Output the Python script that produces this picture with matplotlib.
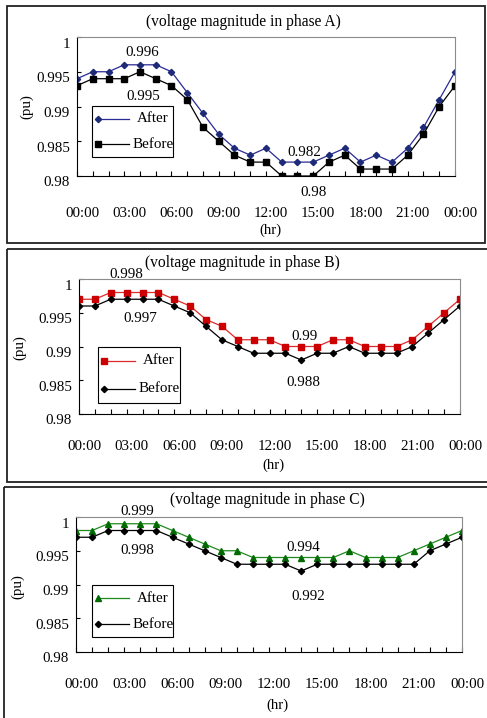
import matplotlib
matplotlib.use("Agg")
import matplotlib.pyplot as plt
from matplotlib.patches import Rectangle
from matplotlib.lines import Line2D
from matplotlib.transforms import ScaledTranslation

plt.rcParams["font.family"] = ["Liberation Serif", "DejaVu Serif"]
plt.rcParams["font.size"] = 10.8

# hourly voltage magnitude (pu), 00:00 .. 24:00
hour_labels = ["00:00", "03:00", "06:00", "09:00", "12:00", "15:00", "18:00", "21:00", "00:00"]
y_ticks = [0.98, 0.985, 0.99, 0.995, 1.0]

a_after = [0.994, 0.995, 0.995, 0.996, 0.996, 0.996, 0.995, 0.992, 0.989, 0.986, 0.984, 0.983, 0.984,
           0.982, 0.982, 0.982, 0.983, 0.984, 0.982, 0.983, 0.982, 0.984, 0.987, 0.991, 0.995]
a_before = [0.993, 0.994, 0.994, 0.994, 0.995, 0.994, 0.993, 0.991, 0.987, 0.985, 0.983, 0.982, 0.982,
            0.980, 0.980, 0.980, 0.982, 0.983, 0.981, 0.981, 0.981, 0.983, 0.986, 0.990, 0.993]
b_after = [0.997, 0.997, 0.998, 0.998, 0.998, 0.998, 0.997, 0.996, 0.994, 0.993, 0.991, 0.991, 0.991,
           0.990, 0.990, 0.990, 0.991, 0.991, 0.990, 0.990, 0.990, 0.991, 0.993, 0.995, 0.997]
b_before = [0.996, 0.996, 0.997, 0.997, 0.997, 0.997, 0.996, 0.995, 0.993, 0.991, 0.990, 0.989, 0.989,
            0.989, 0.988, 0.989, 0.989, 0.990, 0.989, 0.989, 0.989, 0.990, 0.992, 0.994, 0.996]
c_after = [0.998, 0.998, 0.999, 0.999, 0.999, 0.999, 0.998, 0.997, 0.996, 0.995, 0.995, 0.994, 0.994,
           0.994, 0.994, 0.994, 0.994, 0.995, 0.994, 0.994, 0.994, 0.995, 0.996, 0.997, 0.998]
c_before = [0.997, 0.997, 0.998, 0.998, 0.998, 0.998, 0.997, 0.996, 0.995, 0.994, 0.993, 0.993, 0.993,
            0.993, 0.992, 0.993, 0.993, 0.993, 0.993, 0.993, 0.993, 0.993, 0.995, 0.996, 0.997]

W, H = 487, 718
fig = plt.figure(figsize=(W / 100, H / 100), dpi=100)


def px_axes(l, t, r, b):
    return fig.add_axes([l / W, 1 - b / H, (r - l) / W, (b - t) / H])


# overlay in pixel coordinates for frames, titles and legends
ov = fig.add_axes([0, 0, 1, 1], zorder=10)
ov.set_xlim(0, W)
ov.set_ylim(H, 0)
ov.axis("off")
ov.patch.set_alpha(0)

panels = [
    dict(phase="A", box=(77, 37, 455, 176), frame=(7, 6, 485, 243),
         after=a_after, before=a_before,
         after_style=dict(color="#2a2a96", marker="D", ms=3.2, mfc="#1c2a78", mec="#1c2a78"),
         before_style=dict(color="black", marker="s", ms=3.8),
         title_xy=(243, 22), ylab_xy=(27, 107), xlab_xy=(270, 230), xpad=22,
         legend=(92, 106, 173, 157),
         notes=[("after", 4, 2, 12), ("before", 4, 3, -25), ("after", 14, 7, 10), ("before", 15, 0, -16)]),
    dict(phase="B", box=(79, 279, 460, 414), frame=(7, 249, 500, 482),
         after=b_after, before=b_before,
         after_style=dict(color="#dd2a2a", marker="s", ms=3.8, mfc="#cc0000", mec="#cc0000"),
         before_style=dict(color="black", marker="D", ms=3.2),
         title_xy=(242, 263), ylab_xy=(20, 348), xlab_xy=(273, 465), xpad=18.5,
         legend=(98, 347, 180, 403),
         notes=[("after", 3, 0, 18), ("before", 4, -2, -19), ("after", 14, 3, 10), ("before", 14, 2, -23)]),
    dict(phase="C", box=(76, 517, 462, 652), frame=(4, 487, 500, 730),
         after=c_after, before=c_before,
         after_style=dict(color="#1f8a1f", marker="^", ms=4.2, mfc="#006a00", mec="#006a00"),
         before_style=dict(color="black", marker="D", ms=3.2),
         title_xy=(267, 500), ylab_xy=(18, 587), xlab_xy=(277, 705), xpad=18.5,
         legend=(92, 585, 173, 637),
         notes=[("after", 4, -3, 12), ("before", 4, -3, -20), ("after", 14, 2, 10), ("before", 14, 7, -25)]),
]

for p in panels:
    ax = px_axes(*p["box"])
    x = list(range(len(p["after"])))
    ax.plot(x, p["after"], lw=0.9, **p["after_style"])
    ax.plot(x, p["before"], lw=0.9, **p["before_style"])
    ax.set_xlim(0, 24)
    ax.set_ylim(0.98, 1.0)
    ax.set_xticks(range(0, 25, 3))
    ax.set_xticks(range(25), minor=True)
    ax.set_xticklabels(hour_labels)
    ax.set_yticks(y_ticks)
    ax.set_yticklabels([f"{v:g}" for v in y_ticks])
    ax.tick_params(axis="x", which="both", direction="in", length=3.5, width=0.8, pad=p["xpad"])
    ax.tick_params(axis="y", direction="in", length=3, width=0.8, pad=5)
    for lbl in ax.get_xticklabels():
        lbl.set_transform(lbl.get_transform() + ScaledTranslation(0.05, 0, fig.dpi_scale_trans))
    for lbl in ax.get_yticklabels():
        lbl.set_transform(lbl.get_transform() + ScaledTranslation(0, -0.055, fig.dpi_scale_trans))
    for side in ("left", "bottom"):
        ax.spines[side].set_color("black")
        ax.spines[side].set_linewidth(0.8)
    for side in ("top", "right"):
        ax.spines[side].set_color("#8c8c8c")
        ax.spines[side].set_linewidth(0.8)

    # value labels at the extreme points
    series = {"after": p["after"], "before": p["before"]}
    for name, i, dx, dy in p["notes"]:
        v = series[name][i]
        ax.annotate(f"{v:g}", xy=(i, v), xytext=(dx, dy), textcoords="offset pixels",
                    ha="center", va="center", annotation_clip=False)

    # panel frame
    fl, ft, fr, fb = p["frame"]
    ov.add_patch(Rectangle((fl, ft), fr - fl, fb - ft, fill=False, ec="#222222", lw=1.3))

    ov.text(*p["title_xy"], f"(voltage magnitude in phase {p['phase']})", ha="center", va="center",
            fontsize=11.2)
    ov.text(*p["ylab_xy"], "(pu)", ha="center", va="center", rotation=90)
    ov.text(*p["xlab_xy"], "(hr)", ha="center", va="center")

    # legend box: marker sits at the left end of the sample line
    ll, lt, lr, lb = p["legend"]
    ov.add_patch(Rectangle((ll, lt), lr - ll, lb - lt, fc="white", ec="black", lw=0.8))
    row_h = (lb - lt) / 2
    for k, (label, style) in enumerate([("After", p["after_style"]), ("Before", p["before_style"])]):
        yy = lt + row_h * (k + 0.5)
        x0 = ll + 6
        ov.add_line(Line2D([x0, x0 + 31], [yy, yy], color=style["color"], lw=0.9))
        ov.add_line(Line2D([x0], [yy], ls="none", marker=style["marker"], ms=style["ms"],
                           mfc=style.get("mfc", style["color"]), mec=style.get("mec", style["color"])))
        ov.text(ll + 61, yy, label, ha="center", va="center")

fig.savefig("out.png", dpi=100)
